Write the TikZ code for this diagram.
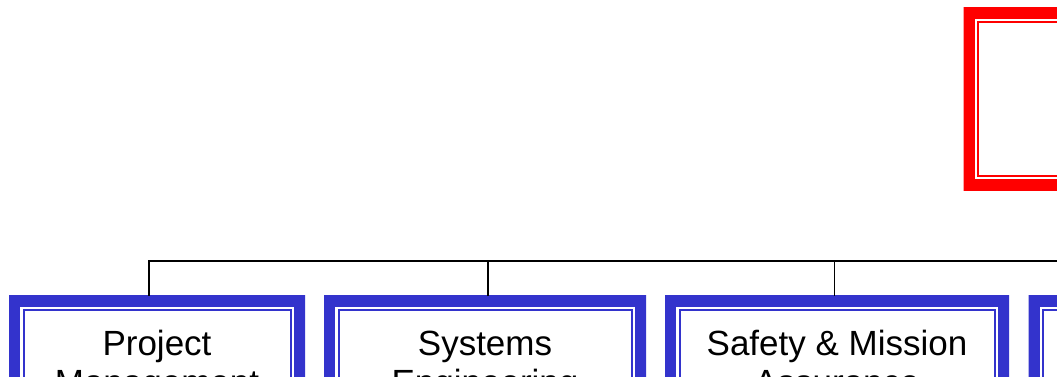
\documentclass[tikz,border=0pt]{standalone}
\usepackage{fontspec}
\setmainfont{Liberation Sans}
\definecolor{boxblue}{HTML}{3333CC}
\definecolor{boxred}{HTML}{FF0000}
\tikzset{
  framedbox/.style={rectangle, inner xsep=0pt, inner ysep=34.3pt,
    font=\fontsize{35}{39}\selectfont, text height=25pt, text depth=200pt,
    path picture={
      \draw[line width=22pt, #1] (path picture bounding box.north west) rectangle (path picture bounding box.south east);
      \draw[line width=2pt, #1] ([shift={(14.5,14.5)}]path picture bounding box.north west) rectangle ([shift={(-14.5,-14.5)}]path picture bounding box.south east);
    }},
  bluebox/.style={framedbox=boxblue, anchor=north, minimum width=#1},
  conn/.style={draw=black, line width=1.6pt}
}
\begin{document}
\begin{tikzpicture}[x=1pt, y=-1pt]
\useasboundingbox (0,0) rectangle (1057,377);
\clip (0,0) rectangle (1057,377);
\node[framedbox=boxred, anchor=north west, minimum width=340pt, text depth=88.9pt] (top) at (963.5,7.5) {};
\node[bluebox=296pt] (b1) at (157,295.7) {\begin{tabular}[t]{@{}c@{}}Project\\Management\end{tabular}};
\node[bluebox=322pt] (b2) at (485,295.7) {\begin{tabular}[t]{@{}c@{}}Systems\\Engineering\end{tabular}};
\node[bluebox=344pt] (b3) at (837,295.7) {\begin{tabular}[t]{@{}c@{}}Safety \& Mission\\Assurance\end{tabular}};
\node[framedbox=boxblue, anchor=north west, minimum width=300pt] (b4) at (1028.3,295.7) {};
\coordinate (bus) at (0,260.7);
\draw[conn] (top.south) |- ([xshift=-8pt]b1.north |- bus) -- ([xshift=-8pt]b1.north);
\draw[conn] ([xshift=2.7pt]b2.north |- bus) -- ([xshift=2.7pt]b2.north);
\draw[conn] ([xshift=-2.7pt]b3.north |- bus) -- ([xshift=-2.7pt]b3.north);
\draw[conn] (b4.north |- bus) -- (b4.north);
\end{tikzpicture}
\end{document}
